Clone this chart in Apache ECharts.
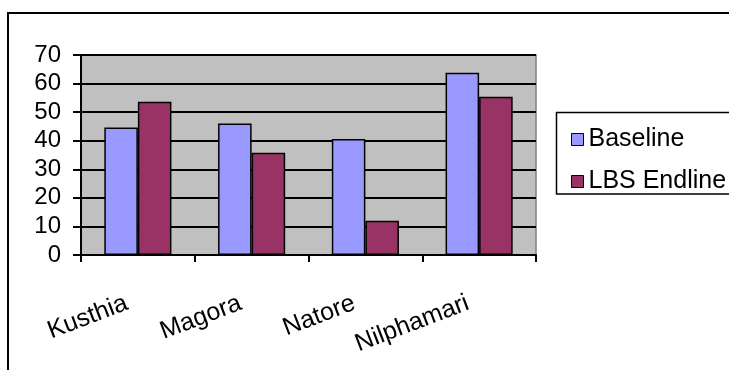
<!DOCTYPE html>
<html>
<head>
<meta charset="utf-8">
<script src="https://cdn.jsdelivr.net/npm/echarts@6/dist/echarts.min.js"></script>
<style>
  html, body { margin: 0; padding: 0; background: #fff; }
  #chart { width: 729px; height: 370px; }
</style>
</head>
<body>
<div id="chart"></div>
<script>
// District names along the category axis
const districts = ['Kusthia', 'Magora', 'Natore', 'Nilphamari'];

// Survey values per district
const baseline = [44.6, 46, 40.6, 63.8];
const lbsEndline = [53.6, 35.8, 12, 55.4];

const seriesNames = ['Baseline', 'LBS Endline'];
const yTicks = { min: 0, max: 70, interval: 10 };

const FONT = 'Liberation Sans, Arial, sans-serif';

const chart = echarts.init(document.getElementById('chart'), null, { renderer: 'canvas' });

chart.setOption({
  animation: false,
  backgroundColor: '#ffffff',
  graphic: [
    {
      type: 'rect',
      shape: { x: 8, y: 13, width: 800, height: 500 },
      style: { fill: 'none', stroke: '#000', lineWidth: 2 },
      z: 0
    },
    {
      type: 'rect',
      shape: { x: 556.5, y: 112.5, width: 300, height: 81.5 },
      style: { fill: '#fff', stroke: '#000', lineWidth: 1.5 },
      z: 1
    }
  ],
  grid: {
    left: 81, top: 55, right: 193, bottom: 115,
    show: true,
    backgroundColor: '#C0C0C0',
    borderColor: '#808080',
    borderWidth: 1.5
  },
  legend: {
    orient: 'vertical',
    left: 566, top: 122,
    itemWidth: 12, itemHeight: 12,
    itemGap: 17,
    icon: 'rect',
    data: seriesNames,
    textStyle: {
      fontFamily: FONT, fontSize: 25, color: '#000',
      lineHeight: 25
    },
    itemStyle: { borderColor: '#000', borderWidth: 1 },
    z: 5
  },
  xAxis: {
    type: 'category',
    data: districts,
    axisLine: { show: true, lineStyle: { color: '#000', width: 2 } },
    axisTick: { show: true, length: 7, lineStyle: { color: '#000', width: 2 } },
    axisLabel: {
      rotate: 21,
      margin: 43,
      padding: [0, 12, 0, 0],
      fontFamily: FONT, fontSize: 25, color: '#000'
    }
  },
  yAxis: {
    type: 'value',
    min: yTicks.min, max: yTicks.max, interval: yTicks.interval,
    axisLine: { show: true, lineStyle: { color: '#000', width: 2 } },
    axisTick: { show: true, length: 8, lineStyle: { color: '#000', width: 2 } },
    axisLabel: { margin: 20, fontFamily: FONT, fontSize: 24, color: '#000' },
    splitLine: { show: true, lineStyle: { color: '#000', width: 2 } }
  },
  series: [
    {
      name: seriesNames[0],
      type: 'bar',
      data: baseline,
      barGap: '0%',
      barCategoryGap: '41%',
      itemStyle: { color: '#9999FF', borderColor: '#000', borderWidth: 1.5 }
    },
    {
      name: seriesNames[1],
      type: 'bar',
      data: lbsEndline,
      itemStyle: { color: '#993366', borderColor: '#000', borderWidth: 1.5 }
    }
  ]
});
</script>
</body>
</html>
